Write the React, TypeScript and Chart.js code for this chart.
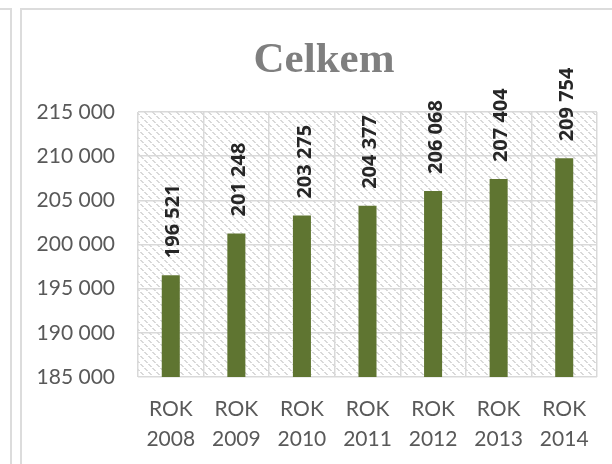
import React, { useEffect, useRef } from 'react';
import { Chart, registerables } from 'chart.js';
Chart.register(...registerables);

const categories: string[][] = [
  ['ROK', '2008'],
  ['ROK', '2009'],
  ['ROK', '2010'],
  ['ROK', '2011'],
  ['ROK', '2012'],
  ['ROK', '2013'],
  ['ROK', '2014'],
];
const values: number[] = [196521, 201248, 203275, 204377, 206068, 207404, 209754];
const yMin = 185000;
const yMax = 215000;
const yStep = 5000;
const titleText = 'Celkem';

const fmt = (v: number) => String(Math.round(v)).replace(/\B(?=(\d{3})+(?!\d))/g, ' ');

const GRID = '#d9d9d9';
const TEXT = '#595959';
const BAR = '#5f7531';

function makePattern(ctx: CanvasRenderingContext2D) {
  const c = document.createElement('canvas');
  c.width = 8;
  c.height = 8;
  const g = c.getContext('2d')!;
  g.fillStyle = '#ffffff';
  g.fillRect(0, 0, 8, 8);
  g.fillStyle = '#d9d9d9';
  for (let i = 0; i < 8; i++) {
    if (i % 4 === 3) continue;
    g.fillRect(i, i, 1, 1);
    g.fillRect((i + 1) % 8, i, 1, 1);
  }
  return ctx.createPattern(c, 'repeat');
}

const framePlugin = {
  id: 'frame',
  beforeDraw(chart: any) {
    const ctx = chart.ctx as CanvasRenderingContext2D;
    ctx.save();
    ctx.fillStyle = '#ffffff';
    ctx.fillRect(0, 0, chart.width, chart.height);
    ctx.strokeStyle = '#dcdcdc';
    ctx.lineWidth = 2;
    ctx.beginPath();
    ctx.moveTo(0, 9);
    ctx.lineTo(11, 9);
    ctx.lineTo(11, chart.height);
    ctx.moveTo(21, chart.height);
    ctx.lineTo(21, 9);
    ctx.lineTo(chart.width, 9);
    ctx.stroke();
    const a = chart.chartArea;
    const p = makePattern(ctx);
    if (p) {
      ctx.fillStyle = p;
      ctx.fillRect(a.left, a.top, a.right - a.left, a.bottom - a.top);
    }
    ctx.restore();
  },
};

const titlePlugin = {
  id: 'customTitle',
  afterDraw(chart: any) {
    const ctx = chart.ctx as CanvasRenderingContext2D;
    ctx.save();
    ctx.font = 'bold 43px "Liberation Serif"';
    ctx.fillStyle = '#7f7f7f';
    ctx.textAlign = 'center';
    ctx.textBaseline = 'alphabetic';
    ctx.fillText(titleText, 324, 72);
    ctx.restore();
  },
};

const labelPlugin = {
  id: 'barLabels',
  afterDatasetsDraw(chart: any) {
    const ctx = chart.ctx as CanvasRenderingContext2D;
    const meta = chart.getDatasetMeta(0);
    ctx.save();
    ctx.font = 'bold 20px "Open Sans"';
    ctx.fillStyle = '#262626';
    ctx.textAlign = 'left';
    ctx.textBaseline = 'middle';
    meta.data.forEach((bar: any, i: number) => {
      ctx.save();
      ctx.translate(bar.x + 3, bar.y - 17);
      ctx.rotate(-Math.PI / 2);
      ctx.fillText(fmt(values[i]), 0, 0);
      ctx.restore();
    });
    ctx.restore();
  },
};

export default function App() {
  const ref = useRef<HTMLCanvasElement>(null);
  useEffect(() => {
    if (!ref.current) return;
    const chart = new Chart(ref.current, {
      type: 'bar',
      data: {
        labels: categories,
        datasets: [
          {
            data: values,
            backgroundColor: BAR,
            borderWidth: 0,
            categoryPercentage: 1,
            barPercentage: 0.275,
          },
        ],
      },
      options: {
        responsive: false,
        animation: false,
        layout: { padding: { top: 112, right: 15, left: 0, bottom: 0 } },
        plugins: {
          legend: { display: false },
          title: { display: false },
          tooltip: { enabled: false },
        },
        scales: {
          x: {
            grid: { color: GRID, lineWidth: 1.5, drawTicks: false, offset: true },
            border: { display: false },
            ticks: {
              color: TEXT,
              font: { family: 'Lato', size: 21, lineHeight: '30px' },
              padding: 17,
              maxRotation: 0,
              autoSkip: false,
            },
            afterFit: (s: any) => {
              s.height = 87;
            },
          },
          y: {
            min: yMin,
            max: yMax,
            grid: { color: GRID, lineWidth: 1.5, drawTicks: false },
            border: { display: false },
            ticks: {
              stepSize: yStep,
              color: TEXT,
              font: { family: 'Lato', size: 21 },
              padding: 23,
              callback: (v: any) => fmt(Number(v)),
            },
            afterFit: (s: any) => {
              s.width = 138;
            },
          },
        },
      },
      plugins: [framePlugin, titlePlugin, labelPlugin],
    });
    return () => chart.destroy();
  }, []);
  return (
    <div style={{ position: 'absolute', left: 0, top: 0, width: 612, height: 464 }}>
      <canvas ref={ref} width={612} height={464} />
    </div>
  );
}
